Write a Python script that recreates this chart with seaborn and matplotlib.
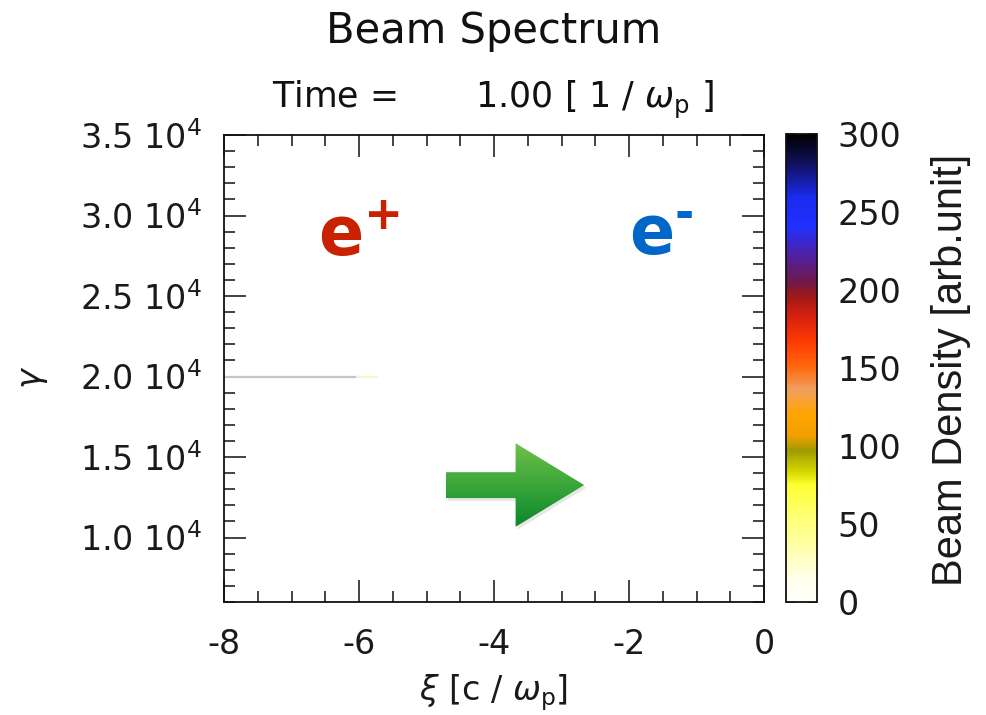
import numpy as np
import pandas as pd
import matplotlib
matplotlib.use("Agg")
import matplotlib.pyplot as plt
import seaborn as sns
from matplotlib.colors import LinearSegmentedColormap, Normalize
from matplotlib.ticker import MultipleLocator
from matplotlib.patches import Polygon
import matplotlib.cm as cm

# ---------------- data ----------------
beam_xi = [-8.0, -6.03]
beam_gamma = [20000, 20000]
beam_tail_xi = [-6.03, -5.73]
beam_tail_gamma = [20000, 20000]

xi_ticks = [-8, -6, -4, -2, 0]
gamma_ticks = [10000, 15000, 20000, 25000, 30000, 35000]
gamma_tick_labels = ["1.0 10$^4$", "1.5 10$^4$", "2.0 10$^4$",
                     "2.5 10$^4$", "3.0 10$^4$", "3.5 10$^4$"]
density_ticks = [0, 50, 100, 150, 200, 250, 300]

cmap_values = [0, 13, 35, 56, 75, 83, 97, 106, 120, 136, 150, 166, 183,
               196, 205, 222, 241, 260, 282, 300]
cmap_colors = ["#fffff8", "#fffff0", "#ffffa8", "#ffff70", "#ffff30",
               "#d8d800", "#a09a00", "#f0a000", "#ffa500", "#f0a060",
               "#ff6a10", "#ff3c00", "#d82010", "#a01818", "#701848",
               "#5020a0", "#2030ff", "#1a2aee", "#10105a", "#000000"]

# ---------------- style ----------------
sns.set_style("ticks")
plt.rcParams["font.family"] = ["DejaVu Sans"]
plt.rcParams["mathtext.fontset"] = "dejavusans"
plt.rcParams["axes.unicode_minus"] = False

W, H = 986, 715
fig = plt.figure(figsize=(W / 100, H / 100), dpi=100)
fig.patch.set_facecolor("white")

ax = fig.add_axes([224 / W, 1 - 602 / H, 540 / W, 467 / H])
cax = fig.add_axes([786 / W, 1 - 602 / H, 31 / W, 468 / H])

cmap = LinearSegmentedColormap.from_list(
    "beam", list(zip(np.array(cmap_values) / 300.0, cmap_colors)))

# beam (faint line at gamma = 2e4)
sns.lineplot(x=beam_xi, y=beam_gamma, ax=ax, color="#c6c6c6", lw=1.6)
sns.lineplot(x=beam_tail_xi, y=beam_tail_gamma, ax=ax, color="#f6f6c8", lw=1.6)

# green arrow (annotation) with vertical gradient and soft shadow
arrow_pts = [(0.411, 0.2225), (0.540, 0.2225), (0.540, 0.161), (0.667, 0.2505),
             (0.540, 0.340), (0.540, 0.278), (0.411, 0.278)]
shadow_pts = [(x + 0.004, y - 0.006) for x, y in arrow_pts]
ax.add_patch(Polygon(shadow_pts, closed=True, transform=ax.transAxes,
                     facecolor="#d8d8d8", edgecolor="none", alpha=0.6, zorder=2))
poly = Polygon(arrow_pts, closed=True, transform=ax.transAxes,
               facecolor="none", edgecolor="none")
ax.add_patch(poly)
grad_cmap = LinearSegmentedColormap.from_list("g", ["#0a882a", "#3aa63a", "#70c048"])
grad = np.linspace(0, 1, 256).reshape(-1, 1)
im = ax.imshow(grad, cmap=grad_cmap, origin="lower", aspect="auto",
               extent=[0.411, 0.667, 0.161, 0.340], transform=ax.transAxes,
               zorder=3)
im.set_clip_path(poly)

# e+ / e- labels
ax.text(0.174, 0.743, "$\\mathbf{e}^{\\mathbf{+}}$", transform=ax.transAxes,
        ha="left", va="baseline", fontsize=48, color="#c82200")
ax.text(0.750, 0.743, "$\\mathbf{e}^{\\mathbf{\u2010}}$", transform=ax.transAxes,
        ha="left", va="baseline", fontsize=48, color="#0066c8")

ax.set_xlim(-8, 0)
ax.set_ylim(6000, 35000)
ax.set_xticks(xi_ticks)
ax.set_xticklabels([str(v) for v in xi_ticks])
ax.set_yticks(gamma_ticks)
ax.set_yticklabels(gamma_tick_labels)
ax.xaxis.set_minor_locator(MultipleLocator(0.5))
ax.yaxis.set_minor_locator(MultipleLocator(1000))
ax.tick_params(which="both", direction="in", top=True, right=True,
               bottom=True, left=True,
               width=1.1, colors="#111111", labelcolor="#1a1a1a")
ax.tick_params(which="major", length=16, labelsize=24)
ax.tick_params(which="minor", length=8)
ax.tick_params(axis="x", which="major", pad=19)
ax.tick_params(axis="y", which="major", pad=16)
for s in ax.spines.values():
    s.set_linewidth(1.3)
    s.set_color("#111111")
    s.set_visible(True)

ax.set_xlabel(r"$\xi$ [c / $\omega_{\rm p}$]", fontsize=24, va="center",
              color="#1a1a1a")
ax.xaxis.set_label_coords(0.5, -0.195)
ax.set_ylabel(r"$\gamma$", fontsize=24, va="center", color="#1a1a1a",
              rotation=90)
ax.yaxis.set_label_coords(-0.352, 0.482)

# colorbar
sm = cm.ScalarMappable(norm=Normalize(0, 300), cmap=cmap)
cb = fig.colorbar(sm, cax=cax)
cb.set_ticks(density_ticks)
cb.set_ticklabels([str(v) for v in density_ticks])
cax.yaxis.set_minor_locator(MultipleLocator(10))
cb.outline.set_linewidth(1.3)
cb.outline.set_edgecolor("#111111")
cax.yaxis.set_ticks_position("both")
cax.yaxis.set_label_position("right")
cax.tick_params(which="major", direction="in", left=True, right=True,
                labelleft=False, labelright=True,
                length=7, width=1.1, labelsize=24, pad=15,
                colors="#111111", labelcolor="#1a1a1a")
cax.tick_params(which="minor", direction="in", left=False, right=True,
                length=5, width=1.0, colors="#111111")
cax.set_ylabel("Beam Density [arb.unit]", fontsize=30,
               fontfamily="Liberation Sans", rotation=90, va="center",
               color="#1a1a1a")
cax.yaxis.set_label_coords(165 / 31, 0.496)

# titles
fig.text(494 / W, 1 - 31 / H, "Beam Spectrum", ha="center", va="center",
         fontsize=30, color="#111111")
fig.text(493 / W, 1 - 100 / H, r"Time =       1.00 [ 1 / $\omega_{\rm p}$ ]",
         ha="center", va="center", fontsize=25, color="#111111")

fig.savefig("out.png", dpi=100, facecolor="white")
